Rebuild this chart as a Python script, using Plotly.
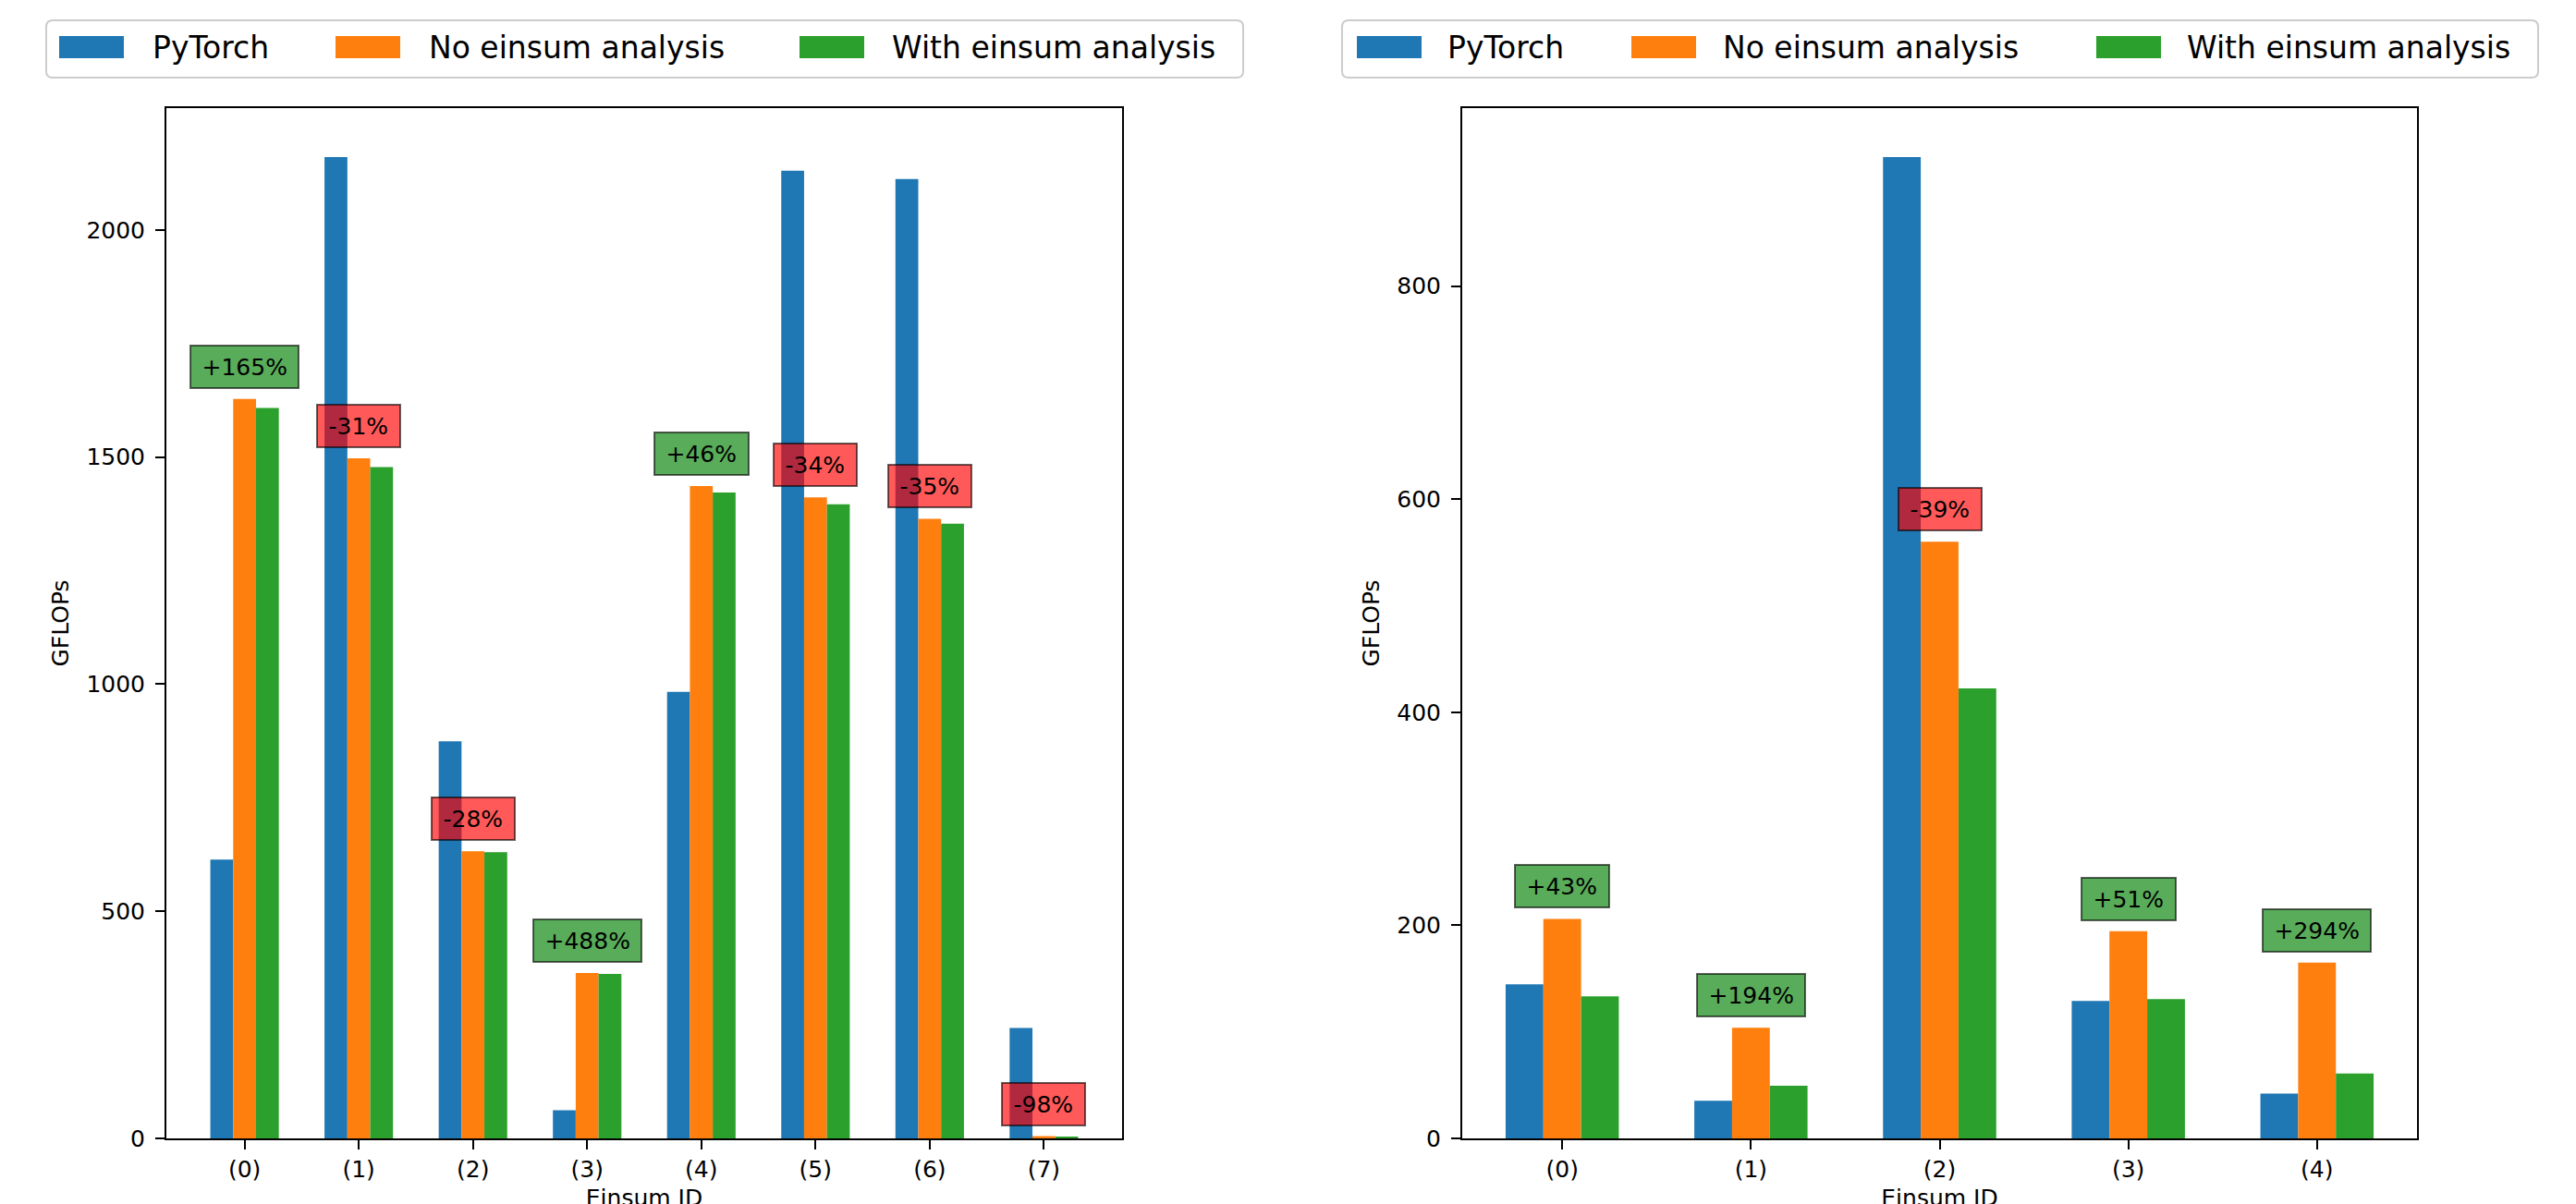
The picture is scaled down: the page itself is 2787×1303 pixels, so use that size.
import plotly.graph_objects as go

# ---------------- data ----------------
series_names = ["PyTorch", "No einsum analysis", "With einsum analysis"]
series_colors = ["#1f77b4", "#ff7f0e", "#2ca02c"]

ids_left = ["(0)", "(1)", "(2)", "(3)", "(4)", "(5)", "(6)", "(7)"]
pytorch_left = [614, 2160, 874, 62, 983, 2130, 2112, 243]
noein_left = [1628, 1497, 632, 364, 1436, 1411, 1364, 5]
withein_left = [1608, 1478, 630, 362, 1422, 1396, 1353, 3]
labels_left = ["+165%", "-31%", "-28%", "+488%", "+46%", "-34%", "-35%", "-98%"]

ids_right = ["(0)", "(1)", "(2)", "(3)", "(4)"]
pytorch_right = [144.7, 35.4, 921, 129, 42]
noein_right = [206, 103.8, 560, 194.4, 165]
withein_right = [133.4, 49.4, 422.4, 130.8, 61]
labels_right = ["+43%", "+194%", "-39%", "+51%", "+294%"]

yticks_left = [0, 500, 1000, 1500, 2000]
yticks_right = [0, 200, 400, 600, 800]

# ---------------- layout helpers ----------------
W, H = 2787, 1303
OFF = 8  # page body margin offset
FONT = "DejaVu Sans"


def px_x(p):
    return (p - OFF) / W


def px_y(p):
    return 1 - (p - OFF) / H


# DejaVu Sans advance widths (units of 1/2048 em) for annotation text sizing
ADV = {"+": 1716, "-": 739, "%": 1946}
for d in "0123456789":
    ADV[d] = 1303


def text_w(s, size):
    return sum(ADV.get(c, 1303) for c in s) / 2048 * size


fig = go.Figure()

panels = [
    (ids_left, [pytorch_left, noein_left, withein_left], labels_left, "x", "y"),
    (ids_right, [pytorch_right, noein_right, withein_right], labels_right, "x2", "y2"),
]

for ids, vals, labels, xa, ya in panels:
    for name, color, v in zip(series_names, series_colors, vals):
        fig.add_trace(go.Bar(
            x=ids, y=v, name=name, marker=dict(color=color, line=dict(width=0)),
            xaxis=xa, yaxis=ya, showlegend=False,
        ))
    for cat, lab, yv in zip(ids, labels, vals[1]):
        pos = lab.startswith("+")
        fig.add_annotation(
            x=cat, y=yv, xref=xa, yref=ya, text=lab, showarrow=False,
            yanchor="middle", xanchor="center", yshift=35,
            font=dict(family=FONT, size=25, color="black"),
            bgcolor="rgba(0,128,0,0.65)" if pos else "rgba(255,0,0,0.65)",
            bordercolor="rgba(0,0,0,0.6)", borderwidth=2, borderpad=7,
            width=text_w(lab, 25) + 9, height=30,
        )

axis_common = dict(
    showline=True, linecolor="black", linewidth=2, mirror=True,
    ticks="outside", ticklen=10, tickwidth=2, tickcolor="black",
    showgrid=False, zeroline=False, automargin=False,
    tickfont=dict(family=FONT, size=25, color="black"),
)

xtitle = dict(text="Einsum ID", font=dict(family=FONT, size=25), standoff=22)
ytitle = dict(text="GFLOPs", font=dict(family=FONT, size=25), standoff=12)

fig.update_layout(
    width=W, height=H,
    margin=dict(l=0, r=0, t=0, b=0),
    paper_bgcolor="white", plot_bgcolor="white",
    barmode="group", bargap=0.4, bargroupgap=0,
    font=dict(family=FONT, color="black"),
    xaxis=dict(domain=[px_x(180), px_x(1214)], anchor="y", range=[-0.685, 7.685],
               title=xtitle, ticklabelstandoff=0, **axis_common),
    yaxis=dict(domain=[px_y(1232), px_y(117)], anchor="x", range=[0, 2268],
               tickvals=yticks_left, title=ytitle, ticklabelstandoff=6, **axis_common),
    xaxis2=dict(domain=[px_x(1582), px_x(2615)], anchor="y2", range=[-0.53, 4.53],
                title=xtitle, ticklabelstandoff=0, **axis_common),
    yaxis2=dict(domain=[px_y(1232), px_y(117)], anchor="x2", range=[0, 967.05],
                tickvals=yticks_right, title=ytitle, ticklabelstandoff=6, **axis_common),
)

# ---------------- custom legends (matplotlib style) ----------------


def rounded_path(x0, y0, x1, y1, r):
    X = lambda v: px_x(v)
    Y = lambda v: px_y(v)
    return (f"M {X(x0 + r)},{Y(y0)} L {X(x1 - r)},{Y(y0)} Q {X(x1)},{Y(y0)} {X(x1)},{Y(y0 + r)} "
            f"L {X(x1)},{Y(y1 - r)} Q {X(x1)},{Y(y1)} {X(x1 - r)},{Y(y1)} "
            f"L {X(x0 + r)},{Y(y1)} Q {X(x0)},{Y(y1)} {X(x0)},{Y(y1 - r)} "
            f"L {X(x0)},{Y(y0 + r)} Q {X(x0)},{Y(y0)} {X(x0 + r)},{Y(y0)} Z")


legend_specs = [
    dict(box=(50, 1345), swatches=[64, 363, 865], texts=[163, 462, 963]),
    dict(box=(1452, 2746), swatches=[1468, 1765, 2268], texts=[1564, 1862, 2364]),
]
for spec in legend_specs:
    bx0, bx1 = spec["box"]
    fig.add_shape(type="path", xref="paper", yref="paper",
                  path=rounded_path(bx0, 22, bx1, 84, 7),
                  line=dict(color="#cccccc", width=2), fillcolor="rgba(255,255,255,0.8)")
    for sx, tx, name, color in zip(spec["swatches"], spec["texts"], series_names, series_colors):
        fig.add_shape(type="rect", xref="paper", yref="paper",
                      x0=px_x(sx), x1=px_x(sx + 70), y0=px_y(63), y1=px_y(39),
                      line=dict(width=0), fillcolor=color)
        fig.add_annotation(xref="paper", yref="paper", x=px_x(tx), y=px_y(51),
                           xanchor="left", yanchor="middle", showarrow=False,
                           text=name, font=dict(family=FONT, size=33, color="black"))

fig.write_html("out.html")
